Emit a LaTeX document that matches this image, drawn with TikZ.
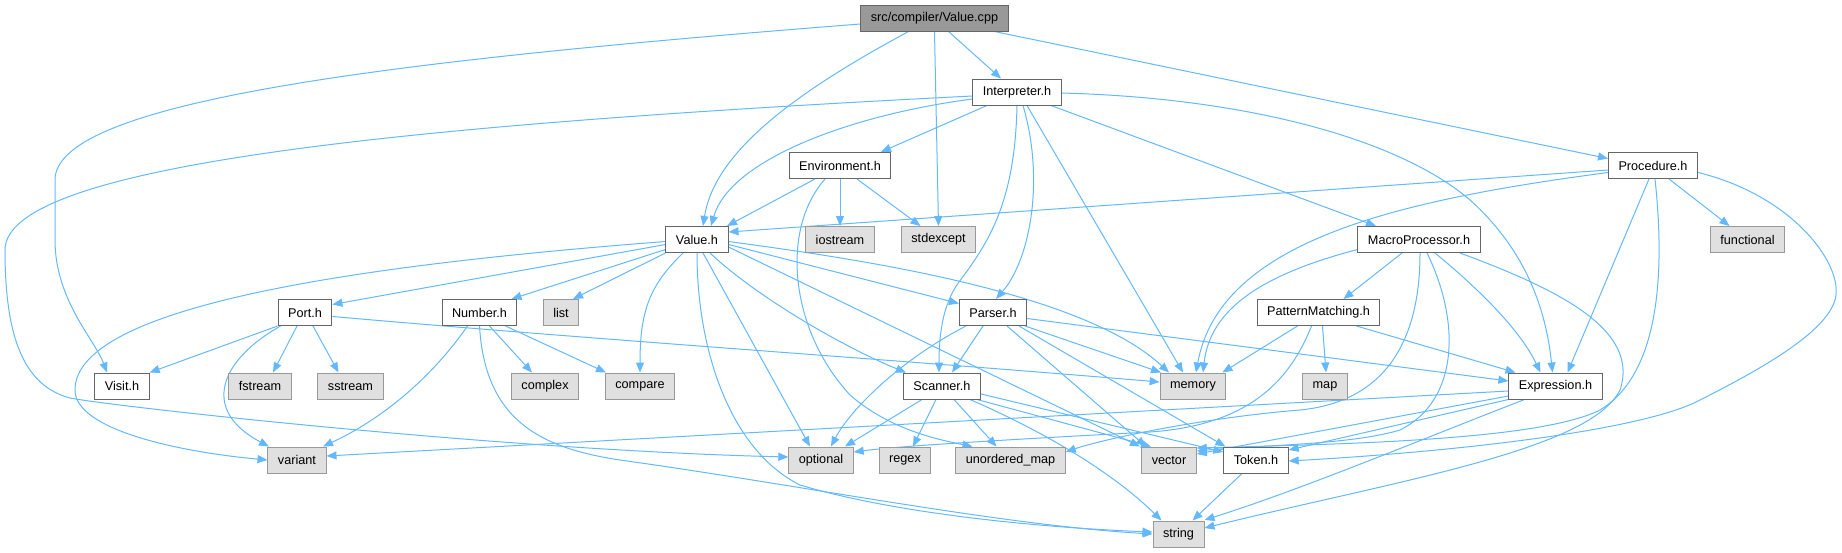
\documentclass[tikz,border=0pt]{standalone}
\usepackage{fontspec}
\setmainfont{Liberation Sans}
\usetikzlibrary{arrows.meta}
\definecolor{edgecol}{HTML}{63B8FF}
\definecolor{boxborder}{HTML}{666666}
\definecolor{extborder}{HTML}{999999}
\definecolor{extfill}{HTML}{E0E0E0}
\definecolor{mainfill}{HTML}{999999}
\pgfdeclarelayer{bg}
\pgfsetlayers{bg,main}
\tikzset{
  box/.style={draw=boxborder, fill=white, line width=1pt, minimum height=26pt,
    inner xsep=10pt, inner ysep=0pt, font=\fontsize{12.67}{15}\selectfont, text=black},
  ext/.style={box, draw=extborder, fill=extfill},
  mainbox/.style={box, draw=boxborder, fill=mainfill},
  edge/.style={draw=edgecol, line width=1pt, -{Triangle[length=10pt,width=8pt]}},
}
\begin{document}
\begin{tikzpicture}[x=1pt,y=-1pt]
\useasboundingbox (0,0) rectangle (1842,552);
% row 0
\node[mainbox] (vcpp) at (934.5,18) {src/compiler/Value.cpp};
% row 1
\node[box] (interp) at (1017,92) {Interpreter.h};
% row 2
\node[box] (env) at (840,165.5) {Environment.h};
\node[box] (proc) at (1653,165.5) {Procedure.h};
% row 3
\node[box] (valh) at (697,239.5) {Value.h};
\node[ext] (iostream) at (840,239.5) {iostream};
\node[ext] (stdexcept) at (938.5,239.5) {stdexcept};
\node[box] (macro) at (1419,239.5) {MacroProcessor.h};
\node[ext] (functional) at (1747.5,239.5) {functional};
% row 4
\node[box] (port) at (305,312.5) {Port.h};
\node[box] (number) at (479.5,312.5) {Number.h};
\node[ext] (list) at (561,312.5) {list};
\node[box] (parser) at (993,312.5) {Parser.h};
\node[box] (pattern) at (1318.5,312.5) {PatternMatching.h};
% row 5
\node[box] (visit) at (122,386) {Visit.h};
\node[ext] (fstream) at (260,386) {fstream};
\node[ext] (sstream) at (350.5,386) {sstream};
\node[ext] (complex) at (545,386) {complex};
\node[ext] (compare) at (640,386) {compare};
\node[box] (scanner) at (942,386) {Scanner.h};
\node[ext] (memory) at (1193,386) {memory};
\node[ext] (map) at (1325,386) {map};
\node[box] (expr) at (1555.5,386) {Expression.h};
% row 6
\node[ext] (variant) at (297,460) {variant};
\node[ext] (optional) at (821,460) {optional};
\node[ext] (regex) at (905,460) {regex};
\node[ext] (umap) at (1010.5,460) {unordered\_map};
\node[ext] (vector) at (1169,460) {vector};
\node[box] (token) at (1256,460) {Token.h};
% row 7
\node[ext] (string) at (1178.5,534) {string};

\begin{pgfonlayer}{bg}
% Value.cpp
\draw[edge] ([yshift=-6]vcpp.west) .. controls (400,60) and (55,100) .. (55,180) -- (55,240) .. controls (55,300) and (95,340) .. ([xshift=-15]visit.north);
\draw[edge] ([xshift=-26]vcpp.south) .. controls (800,90) and (715,150) .. ([xshift=6]valh.north);
\draw[edge] (vcpp.south) -- (stdexcept.north);
\draw[edge] ([xshift=14]vcpp.south) -- ([xshift=-16]interp.north);
\draw[edge] ([xshift=60]vcpp.south) -- ([yshift=7]proc.west);
% Interpreter.h
\draw[edge] ([yshift=-4]interp.west) .. controls (400,125) and (5,165) .. (5,250) .. controls (5,340) and (25,386) .. (70,398) .. controls (110,406) and (500,450) .. ([yshift=3]optional.west);
\draw[edge] ([yshift=-7]interp.west) .. controls (850,115) and (730,160) .. ([xshift=14]valh.north);
\draw[edge] ([xshift=-30]interp.south) -- ([xshift=41]env.north);
\draw[edge] (interp.south) .. controls (1015,200) and (990,240) .. (962,278) .. controls (944,300) and (939,330) .. ([xshift=-3]scanner.north);
\draw[edge] ([xshift=6]interp.south) .. controls (1045,180) and (1030,260) .. ([xshift=3]parser.north);
\draw[edge] ([xshift=10]interp.south) -- ([xshift=-10]memory.north);
\draw[edge] ([xshift=34]interp.south) -- ([xshift=-43]macro.north);
\draw[edge] ([yshift=-1]interp.east) .. controls (1250,98) and (1400,140) .. (1470,200) .. controls (1520,245) and (1545,300) .. ([xshift=-3]expr.north);
% Environment.h
\draw[edge] ([xshift=-25]env.south) -- ([xshift=30]valh.north);
\draw[edge] (env.south) -- (iostream.north);
\draw[edge] ([xshift=17]env.south) -- ([xshift=-18]stdexcept.north);
\draw[edge] ([xshift=-15]env.south) .. controls (780,230) and (790,330) .. (850,395) .. controls (890,430) and (940,440) .. ([xshift=-38]umap.north);
% Procedure.h
\draw[edge] ([yshift=-4.5]proc.west) -- ([yshift=7.5]valh.east);
\draw[edge] ([yshift=-7]proc.west) .. controls (1400,200) and (1220,240) .. ([xshift=3]memory.north);
\draw[edge] ([xshift=-4]proc.south) -- ([xshift=12]expr.north);
\draw[edge] ([xshift=16]proc.south) -- ([xshift=-18]functional.north);
\draw[edge] ([xshift=2]proc.south) .. controls (1668,300) and (1650,380) .. (1600,410) .. controls (1540,440) and (1350,444) .. ([yshift=12]vector.east);
\draw[edge] ([yshift=-7]proc.east) .. controls (1790,195) and (1840,260) .. (1836,295) .. controls (1832,330) and (1760,370) .. (1694,403) .. controls (1630,432) and (1450,452) .. ([yshift=-1]token.east);
% Value.h
\draw[edge] ([yshift=-2]valh.west) .. controls (400,262) and (75,300) .. (75,390) .. controls (75,430) and (180,452) .. (variant.west);
\draw[edge] ([yshift=-5]valh.west) -- ([yshift=8]port.east);
\draw[edge] ([yshift=-10]valh.west) -- ([xshift=32]number.north);
\draw[edge] (valh.south west) -- ([xshift=12]list.north);
\draw[edge] ([xshift=-14]valh.south) .. controls (650,285) and (640,310) .. (compare.north);
\draw[edge] (valh.south) .. controls (697,350) and (730,450) .. (800,485) .. controls (900,515) and (1050,528) .. ([yshift=2]string.west);
\draw[edge] ([xshift=6]valh.south) -- ([xshift=-11]optional.north);
\draw[edge] ([xshift=13]valh.south) .. controls (760,300) and (850,350) .. ([xshift=-36]scanner.north);
\draw[edge] ([yshift=-7.5]valh.east) -- ([xshift=-29]vector.north);
\draw[edge] ([yshift=-5]valh.east) -- ([yshift=9]parser.west);
\draw[edge] ([yshift=-2]valh.east) .. controls (850,258) and (1080,290) .. ([xshift=-24]memory.north);
% Port.h
\draw[edge] (port.south west) -- (visit.north east);
\draw[edge] ([xshift=-8]port.south) -- ([xshift=13]fstream.north);
\draw[edge] ([xshift=8]port.south) -- ([xshift=-12]sstream.north);
\draw[edge] ([xshift=3]port.south west) .. controls (220,360) and (200,410) .. ([xshift=-28]variant.north);
\draw[edge] ([yshift=-4]port.east) .. controls (600,340) and (900,360) .. ([yshift=4]memory.west);
% Number.h
\draw[edge] ([xshift=-12]number.south) .. controls (430,380) and (380,420) .. ([xshift=26]variant.north);
\draw[edge] (number.south) .. controls (485,420) and (540,448) .. (620,460) .. controls (800,485) and (1000,525) .. (string.west);
\draw[edge] ([xshift=10]number.south) -- ([xshift=-13]complex.north);
\draw[edge] ([xshift=26]number.south) -- ([xshift=-34]compare.north);
% Parser.h
\draw[edge] ([xshift=-10]parser.south) -- ([xshift=10]scanner.north);
\draw[edge] ([xshift=-27]parser.south) .. controls (900,360) and (850,410) .. ([xshift=10]optional.north);
\draw[edge] ([xshift=32]parser.south) -- ([xshift=-32]memory.north);
\draw[edge] ([yshift=-6]parser.east) -- ([yshift=5]expr.west);
\draw[edge] ([xshift=14]parser.south) -- ([xshift=-23]vector.north);
\draw[edge] ([xshift=26]parser.south) -- ([xshift=2]token.north west);
% Scanner.h
\draw[edge] ([xshift=-20]scanner.south) -- ([xshift=24]optional.north);
\draw[edge] ([xshift=-6]scanner.south) -- ([xshift=8]regex.north);
\draw[edge] ([xshift=12]scanner.south) -- ([xshift=-14]umap.north);
\draw[edge] ([xshift=-4]scanner.south east) -- ([xshift=-18]vector.north);
\draw[edge] ([yshift=-8]scanner.east) -- ([yshift=8]token.west);
\draw[edge] ([xshift=28]scanner.south) .. controls (1040,430) and (1110,470) .. ([xshift=-17]string.north);
% MacroProcessor.h
\draw[edge] ([yshift=-10]macro.west) .. controls (1260,275) and (1210,310) .. ([xshift=10]memory.north);
\draw[edge] ([xshift=-17]macro.south) -- ([xshift=25]pattern.north);
\draw[edge] ([xshift=1]macro.south) .. controls (1420,320) and (1400,400) .. (1300,410) .. controls (1200,418) and (1100,440) .. ([yshift=8]umap.east);
\draw[edge] ([xshift=8]macro.south) .. controls (1460,320) and (1460,400) .. (1400,430) .. controls (1350,445) and (1260,445) .. ([yshift=9]vector.east);
\draw[edge] ([xshift=16]macro.south) .. controls (1480,290) and (1520,330) .. ([xshift=-15]expr.north);
\draw[edge] ([xshift=41]macro.south) .. controls (1560,290) and (1640,330) .. (1620,390) .. controls (1590,450) and (1400,480) .. ([yshift=6]string.east);
% PatternMatching.h
\draw[edge] ([xshift=-21]pattern.south) -- ([xshift=-4]memory.north east);
\draw[edge] ([xshift=-7]pattern.south) .. controls (1290,380) and (1250,425) .. (1150,432) .. controls (1000,440) and (900,446) .. ([yshift=8]optional.east);
\draw[edge] ([xshift=4]pattern.south) -- ([xshift=1]map.north);
\draw[edge] ([xshift=38]pattern.south) -- ([xshift=-40]expr.north);
% Expression.h
\draw[edge] ([yshift=-5]expr.west) -- ([yshift=4]variant.east);
\draw[edge] ([yshift=-10]expr.west) -- ([yshift=6]vector.east);
\draw[edge] (expr.south west) -- ([yshift=10]token.east);
\draw[edge] ([xshift=-31]expr.south) .. controls (1420,440) and (1300,490) .. ([yshift=14]string.east);
% Token.h
\draw[edge] ([xshift=-14]token.south) -- ([xshift=14]string.north);
\end{pgfonlayer}
\end{tikzpicture}
\end{document}
